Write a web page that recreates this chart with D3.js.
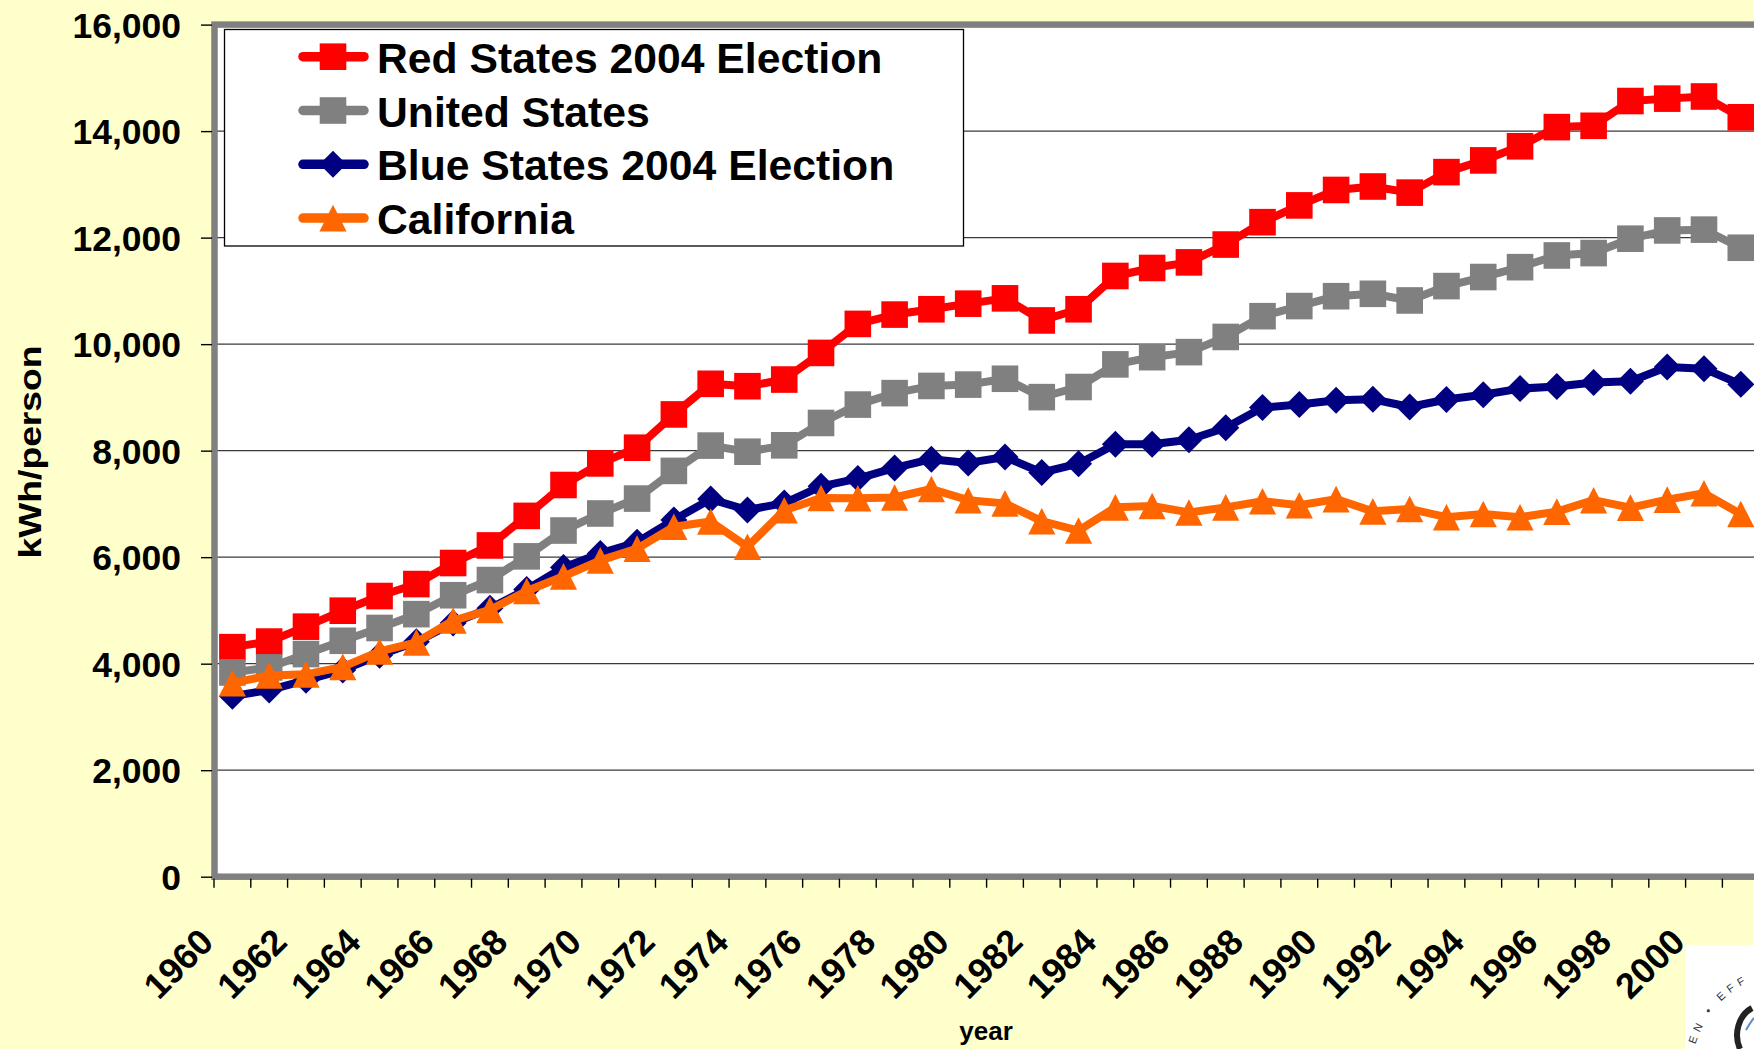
<!DOCTYPE html>
<html>
<head>
<meta charset="utf-8">
<script src="https://cdn.jsdelivr.net/npm/d3@7"></script>
<style>
    html, body { margin: 0; padding: 0; background: #ffffcc; overflow: hidden; }
    svg { display: block; font-family: "Liberation Sans", Arial, sans-serif; font-weight: bold; }
</style>
</head>
<body>
<svg id="chart"></svg>
<script>
const years = d3.range(1960, 2002);
const yTicks = [0, 2000, 4000, 6000, 8000, 10000, 12000, 14000, 16000];
const seriesNames = ["Red States 2004 Election", "United States", "Blue States 2004 Election", "California"];

const redStates = [4310, 4415, 4695, 4995, 5270, 5495, 5890, 6220, 6775, 7355,
    7760, 8055, 8680, 9255, 9210, 9335, 9835, 10380, 10555, 10655,
    10760, 10860, 10445, 10655, 11280, 11430, 11535, 11870, 12290, 12605,
    12895, 12960, 12845, 13230, 13450, 13715, 14075, 14100, 14565, 14610,
    14650, 14260];
const unitedStates = [3835, 3930, 4180, 4430, 4670, 4930, 5285, 5570, 6015, 6500,
    6820, 7100, 7620, 8095, 7980, 8100, 8520, 8865, 9080, 9215,
    9240, 9350, 9005, 9195, 9620, 9755, 9850, 10135, 10525, 10715,
    10900, 10945, 10820, 11090, 11260, 11445, 11665, 11710, 11980, 12135,
    12150, 11810];
const blueStates = [3390, 3505, 3690, 3880, 4160, 4410, 4765, 5040, 5395, 5805,
    6070, 6280, 6700, 7090, 6885, 7015, 7330, 7475, 7675, 7840,
    7770, 7880, 7590, 7755, 8120, 8120, 8205, 8430, 8810, 8865,
    8945, 8965, 8820, 8960, 9050, 9165, 9205, 9280, 9305, 9570,
    9540, 9245];
const california = [3635, 3780, 3800, 3940, 4230, 4400, 4810, 5010, 5365, 5640,
    5940, 6160, 6570, 6670, 6195, 6880, 7110, 7105, 7120, 7280,
    7070, 7010, 6675, 6500, 6935, 6960, 6840, 6935, 7050, 6975,
    7090, 6860, 6905, 6750, 6810, 6750, 6855, 7070, 6930, 7080,
    7200, 6810];

const colors = ["#ff0000", "#808080", "#000080", "#ff6600"];
const shapes = ["square", "square", "diamond", "triangle"];

const W = 1754, H = 1049;
const plot = { left: 214, top: 24.6, bottom: 876.7, band: 36.79 };

const svg = d3.select("#chart").attr("width", W).attr("height", H);

svg.append("rect").attr("width", W).attr("height", H).attr("fill", "#ffffcc");

const x = d3.scaleBand()
    .domain(years)
    .range([plot.left, plot.left + plot.band * years.length])
    .paddingInner(0).paddingOuter(0);

const y = d3.scaleLinear()
    .domain([0, 16000])
    .range([plot.bottom, plot.top]);

const plotRight = x.range()[1];

// plot area
svg.append("rect")
    .attr("x", plot.left).attr("y", plot.top)
    .attr("width", plotRight - plot.left).attr("height", plot.bottom - plot.top)
    .attr("fill", "#ffffff");

// gridlines
svg.append("g").selectAll("line")
    .data(yTicks.slice(1, -1))
    .join("line")
    .attr("x1", plot.left).attr("x2", plotRight)
    .attr("y1", d => y(d)).attr("y2", d => y(d))
    .attr("stroke", "#3a3a3a").attr("stroke-width", 1.2);

// plot border (thick grey)
svg.append("rect")
    .attr("x", plot.left + 0.5).attr("y", plot.top)
    .attr("width", plotRight - plot.left).attr("height", plot.bottom - plot.top)
    .attr("fill", "none")
    .attr("stroke", "#808080").attr("stroke-width", 6.5);

// y axis
const yAxis = d3.axisLeft(y)
    .tickValues(yTicks)
    .tickFormat(d3.format(","))
    .tickSize(11)
    .tickPadding(20);
const yAxisGroup = svg.append("g")
    .attr("transform", `translate(${plot.left - 2}, 0)`)
    .call(yAxis);
yAxisGroup.select(".domain").remove();
yAxisGroup.selectAll(".tick line").attr("stroke", "#000").attr("stroke-width", 1.4);
yAxisGroup.selectAll(".tick text")
    .attr("fill", "#000")
    .style("font-size", "35.5px")
    .style("font-family", "'Liberation Sans', Arial, sans-serif")
    .style("font-weight", "bold")
    .attr("dy", "0.36em");

// x axis ticks at band edges
const xTickGroup = svg.append("g");
xTickGroup.selectAll("line")
    .data(years.concat([2002]))
    .join("line")
    .attr("x1", d => d === 2002 ? plotRight : x(d))
    .attr("x2", d => d === 2002 ? plotRight : x(d))
    .attr("y1", plot.bottom + 2).attr("y2", plot.bottom + 11)
    .attr("stroke", "#000").attr("stroke-width", 1.4);

// x tick labels, every second year, rotated
const labelYears = years.filter(d => d % 2 === 0);
svg.append("g").selectAll("text")
    .data(labelYears)
    .join("text")
    .attr("transform", d => `translate(${x(d) + x.bandwidth() / 2 - 17}, 944) rotate(-45)`)
    .attr("text-anchor", "end")
    .style("font-size", "36px")
    .text(d => d);

// axis titles
svg.append("text")
    .attr("transform", "translate(41, 452) rotate(-90)")
    .attr("text-anchor", "middle")
    .attr("textLength", 213)
    .attr("lengthAdjust", "spacingAndGlyphs")
    .style("font-size", "31px")
    .text("kWh/person");

svg.append("text")
    .attr("x", 986).attr("y", 1040)
    .attr("text-anchor", "middle")
    .style("font-size", "26px")
    .text("year");

// marker paths
function markerPath(shape) {
    if (shape === "square") return "M-13.3,-13.3H13.3V13.3H-13.3Z";
    if (shape === "diamond") return "M0,-13.5L13.5,0L0,13.5L-13.5,0Z";
    return "M0,-13.3L13.6,13.3H-13.6Z";
}

const allSeries = [redStates, unitedStates, blueStates, california];
const cx = d => x(d.year) + x.bandwidth() / 2;

const line = d3.line()
    .x(cx)
    .y(d => y(d.value));

const seriesGroup = svg.append("g");
allSeries.forEach((values, i) => {
    const pts = years.map((yr, j) => ({ year: yr, value: values[j] }));
    const g = seriesGroup.append("g");
    g.append("path")
        .datum(pts)
        .attr("d", line)
        .attr("fill", "none")
        .attr("stroke", colors[i])
        .attr("stroke-width", 8)
        .attr("stroke-linejoin", "round");
    g.selectAll("path.marker")
        .data(pts)
        .join("path")
        .attr("class", "marker")
        .attr("d", markerPath(shapes[i]))
        .attr("transform", d => `translate(${cx(d)}, ${y(d.value)})`)
        .attr("fill", colors[i]);
});

// legend
const legend = svg.append("g");
legend.append("rect")
    .attr("x", 224.5).attr("y", 29.5)
    .attr("width", 739).attr("height", 216.5)
    .attr("fill", "#ffffff")
    .attr("stroke", "#000").attr("stroke-width", 1.3);

const rowY = d3.scalePoint().domain(seriesNames).range([56.7, 218.1]);
const item = legend.selectAll("g.item")
    .data(seriesNames)
    .join("g")
    .attr("class", "item")
    .attr("transform", d => `translate(0, ${rowY(d)})`);
item.append("line")
    .attr("x1", 303).attr("x2", 364)
    .attr("stroke", (d, i) => colors[i])
    .attr("stroke-width", 9.5)
    .attr("stroke-linecap", "round");
item.append("path")
    .attr("d", (d, i) => markerPath(shapes[i]))
    .attr("transform", "translate(333, 0)")
    .attr("fill", (d, i) => colors[i]);
item.append("text")
    .attr("x", 377).attr("y", 16)
    .style("font-size", "42.7px")
    .text(d => d);

// corner logo fragment
const logo = svg.append("g");
logo.append("rect")
    .attr("x", 1685).attr("y", 945)
    .attr("width", W - 1685).attr("height", H - 945)
    .attr("fill", "#ffffff");
logo.append("path")
    .attr("id", "logoArc")
    .attr("d", "M1691.4,1084 A104,104 0 0 1 1830.6,977")
    .attr("fill", "none");
logo.append("text")
    .style("font-size", "11px")
    .style("font-weight", "normal")
    .attr("fill", "#333")
    .attr("letter-spacing", 5)
    .append("textPath")
    .attr("href", "#logoArc")
    .attr("startOffset", 40)
    .text("EN \u2022 EFF");
logo.append("path")
    .attr("d", "M1752,1008 A26,30 0 0 0 1740,1049")
    .attr("fill", "none")
    .attr("stroke", "#222")
    .attr("stroke-width", 6);
logo.append("path")
    .attr("d", "M1746,1030 Q1752,1020 1754,1018")
    .attr("fill", "none")
    .attr("stroke", "#5b8fc4")
    .attr("stroke-width", 2);
</script>
</body>
</html>
